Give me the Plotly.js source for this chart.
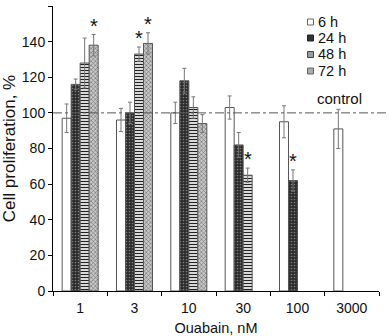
<!DOCTYPE html>
<html>
<head>
<meta charset="utf-8">
<script src="https://cdn.plot.ly/plotly-3.0.1.min.js"></script>
<style>html,body{margin:0;padding:0;background:#fff;}#chart{width:389px;height:336px;}</style>
</head>
<body>
<div id="chart"></div>
<script>
const categories = ['1', '3', '10', '30', '100', '3000'];
const seriesNames = ['6 h', '24 h', '48 h', '72 h'];
const h6 = [97, 96, 100, 103, 95, 91];
const h6err = [8, 6.5, 6, 6.5, 9, 11];
const h24 = [116, 100, 118, 82, 62, null];
const h24err = [3, 6, 7, 7, 6, null];
const h48 = [128, 133, 103, 65, null, null];
const h48err = [14, 4, 6, 4, null, null];
const h72 = [138, 139, 94, null, null, null];
const h72err = [6, 6, 5, null, null, null];
const h6sig = [0, 0, 0, 0, 0, 0];
const h24sig = [0, 0, 0, 0, 1, 0];
const h48sig = [0, 1, 0, 1, 0, 0];
const h72sig = [1, 1, 0, 0, 0, 0];
const controlLevel = 100;
const yTicks = [0, 20, 40, 60, 80, 100, 120, 140, 160];

const values = [h6, h24, h48, h72];
const errs = [h6err, h24err, h48err, h72err];
const sigs = [h6sig, h24sig, h48sig, h72sig];

const styles = [
  {color: '#ffffff', pattern: {shape: ''}, legendFill: '#ffffff', legendLine: '#666666'},
  {color: '#2b2b2b', pattern: {shape: '.', fgcolor: '#7a7a7a', bgcolor: '#2b2b2b', size: 3, solidity: 0.25}, legendFill: '#333333', legendLine: '#222222'},
  {color: '#ffffff', pattern: {shape: '-', fgcolor: '#222222', bgcolor: '#ffffff', size: 3, solidity: 0.45}, legendFill: '#9a9a9a', legendLine: '#444444'},
  {color: '#bbbbbb', pattern: {shape: 'x', fgcolor: '#6a6a6a', bgcolor: '#c8c8c8', size: 3, solidity: 0.35}, legendFill: '#aaaaaa', legendLine: '#666666'}
];

const W = 389, H = 336;
const M = {l: 53, r: 10, t: 6, b: 45};
const pw = W - M.l - M.r, ph = H - M.t - M.b;
const px2x = p => (p - M.l) / pw;
const py2y = p => (H - M.b - p) / ph;

const bargap = 0.337;
const traces = values.map((v, i) => ({
  type: 'bar',
  name: seriesNames[i],
  x: categories,
  y: v,
  showlegend: false,
  marker: {color: styles[i].color, pattern: styles[i].pattern, line: {color: '#555555', width: 1}},
  error_y: {type: 'data', array: errs[i], visible: true, color: '#777777', thickness: 1, width: 2}
}));

const annotations = [];
const shapes = [];
const n = values.length;
const bw = (1 - bargap) / n;
sigs.forEach((s, i) => {
  s.forEach((flag, j) => {
    if (flag && values[i][j] != null) {
      annotations.push({
        x: j - (1 - bargap) / 2 + bw * (i + 0.5),
        y: values[i][j] + errs[i][j],
        xref: 'x', yref: 'y',
        text: '*', showarrow: false,
        yanchor: 'bottom', yshift: -4,
        font: {size: 20, color: '#111', family: 'Liberation Sans, Arial, sans-serif'}
      });
    }
  });
});
annotations.push({
  x: 4.77, y: controlLevel, xref: 'x', yref: 'y',
  text: 'control', showarrow: false, yanchor: 'bottom', yshift: 4,
  font: {size: 15, color: '#111'}
});

// legend (drawn as shapes + text)
const legendRowsPx = [22, 38, 54.5, 71];
seriesNames.forEach((name, i) => {
  const cy = legendRowsPx[i];
  shapes.push({
    type: 'rect', xref: 'paper', yref: 'paper',
    x0: px2x(307.5), x1: px2x(313.5), y0: py2y(cy + 3), y1: py2y(cy - 3),
    fillcolor: styles[i].legendFill, line: {color: styles[i].legendLine, width: 1}
  });
  annotations.push({
    xref: 'paper', yref: 'paper', x: px2x(316), y: py2y(cy),
    xanchor: 'left', yanchor: 'middle', text: name, showarrow: false,
    font: {size: 14.5, color: '#111'}
  });
});

shapes.push({
  type: 'line', xref: 'paper', yref: 'y', x0: 0, x1: 1.035, y0: controlLevel, y1: controlLevel,
  line: {color: '#555', width: 1, dash: 'dashdot'}
});

const layout = {
  width: W, height: H,
  margin: M,
  paper_bgcolor: '#fff', plot_bgcolor: '#fff',
  font: {family: 'Liberation Sans, Arial, sans-serif', size: 14, color: '#111'},
  barmode: 'group', bargap: bargap, bargroupgap: 0,
  showlegend: false,
  xaxis: {
    type: 'category', range: [-0.5, 5.5], tickson: 'boundaries', automargin: false,
    ticks: 'outside', ticklen: 4, tickcolor: '#000', showline: true, linecolor: '#000', linewidth: 1,
    showgrid: false, zeroline: false, ticklabelstandoff: 4,
    title: {text: 'Ouabain, nM', font: {size: 14.5}, standoff: 9},
    tickfont: {size: 14}
  },
  yaxis: {
    range: [0, 160], tickvals: yTicks, ticks: 'outside', ticklen: 4, tickcolor: '#000', automargin: false,
    showline: true, linecolor: '#000', linewidth: 1, showgrid: false, zeroline: false,
    title: {text: 'Cell proliferation, %', font: {size: 17}, standoff: 3},
    tickfont: {size: 14}
  },
  shapes: shapes,
  annotations: annotations
};

Plotly.newPlot('chart', traces, layout, {displayModeBar: false, staticPlot: true});
</script>
</body>
</html>
